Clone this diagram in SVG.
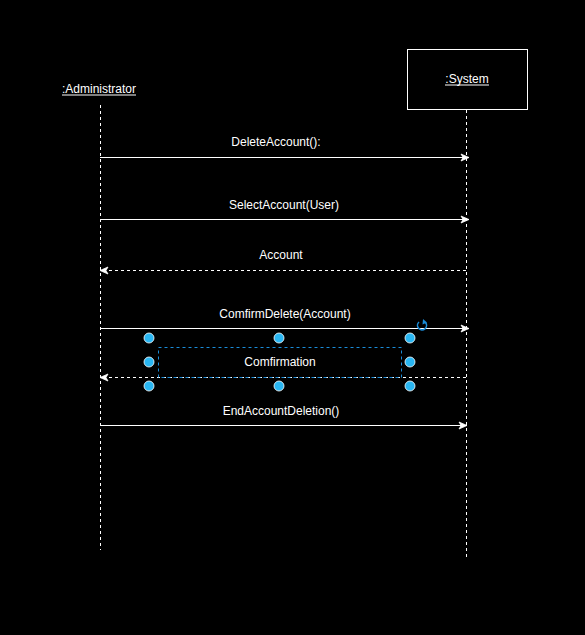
<svg xmlns="http://www.w3.org/2000/svg" width="585" height="635" viewBox="0 0 585 635">
<style>
text{font-family:"Liberation Sans",Arial,sans-serif;font-size:12px;fill:#fff;text-anchor:middle}
.life{stroke:#fff;stroke-width:1;stroke-dasharray:3 3;fill:none}
.msg{stroke:#fff;stroke-width:1;fill:none}
.ret{stroke:#fff;stroke-width:1;stroke-dasharray:3 3;fill:none}
.h{fill:#29b6f2;stroke:#fff;stroke-width:0.8}
</style>
<defs>
<marker id="arr" markerWidth="10" markerHeight="10" refX="9" refY="5" orient="auto" markerUnits="userSpaceOnUse">
<path d="M1,1.5 L9,5 L1,8.5 L3,5 Z" fill="#fff" stroke="#fff" stroke-width="0.8"/>
</marker>
</defs>
<rect width="585" height="635" fill="#000"/>
<g id="administrator">
<text x="99" y="93">:Administrator</text>
<line x1="62" y1="95" x2="136" y2="95" stroke="#fff" stroke-width="1"/>
<line class="life" x1="100.5" y1="105" x2="100.5" y2="550"/>
</g>
<g id="system">
<rect x="407.5" y="49.5" width="120" height="60" fill="#000" stroke="#fff" stroke-width="1"/>
<text x="467" y="83">:System</text>
<line x1="445" y1="85" x2="489" y2="85" stroke="#fff" stroke-width="1"/>
<line class="life" x1="466.5" y1="110" x2="466.5" y2="557"/>
</g>
<g id="connectors">
<g id="m1"><line class="msg" x1="100" y1="157.5" x2="469" y2="157.5" marker-end="url(#arr)"/><text x="276" y="146">DeleteAccount():</text></g>
<g id="m2"><line class="msg" x1="100" y1="219.5" x2="469" y2="219.5" marker-end="url(#arr)"/><text x="284" y="209">SelectAccount(User)</text></g>
<g id="m3"><line class="ret" x1="466" y1="270.5" x2="100" y2="270.5" marker-end="url(#arr)"/><text x="281" y="259">Account</text></g>
<g id="m4"><line class="msg" x1="100" y1="328.5" x2="469" y2="328.5" marker-end="url(#arr)"/><text x="285" y="318">ComfirmDelete(Account)</text></g>
<g id="m5"><line class="ret" x1="466" y1="377.5" x2="100" y2="377.5" marker-end="url(#arr)"/><text x="280" y="366">Comfirmation</text></g>
<g id="m6"><line class="msg" x1="100" y1="425.5" x2="467" y2="425.5" marker-end="url(#arr)"/><text x="281" y="415">EndAccountDeletion()</text></g>
</g>
<g id="selection">
<rect x="158.5" y="347.5" width="243" height="30" fill="none" stroke="#1a8cd8" stroke-width="1" stroke-dasharray="3 3"/>
<circle class="h" cx="149" cy="338" r="5"/>
<circle class="h" cx="279" cy="338" r="5"/>
<circle class="h" cx="410" cy="338" r="5"/>
<circle class="h" cx="149" cy="362" r="5"/>
<circle class="h" cx="410" cy="362" r="5"/>
<circle class="h" cx="149" cy="386" r="5"/>
<circle class="h" cx="279" cy="386" r="5"/>
<circle class="h" cx="410" cy="386" r="5"/>
<path d="M425.5,322.5 A4.5,4.5 0 1 1 419,322" fill="none" stroke="#1a8cd8" stroke-width="1.6"/>
<path d="M423,319 L427,322.5 L422.5,324.5 Z" fill="#1a8cd8"/>
</g>
</svg>
